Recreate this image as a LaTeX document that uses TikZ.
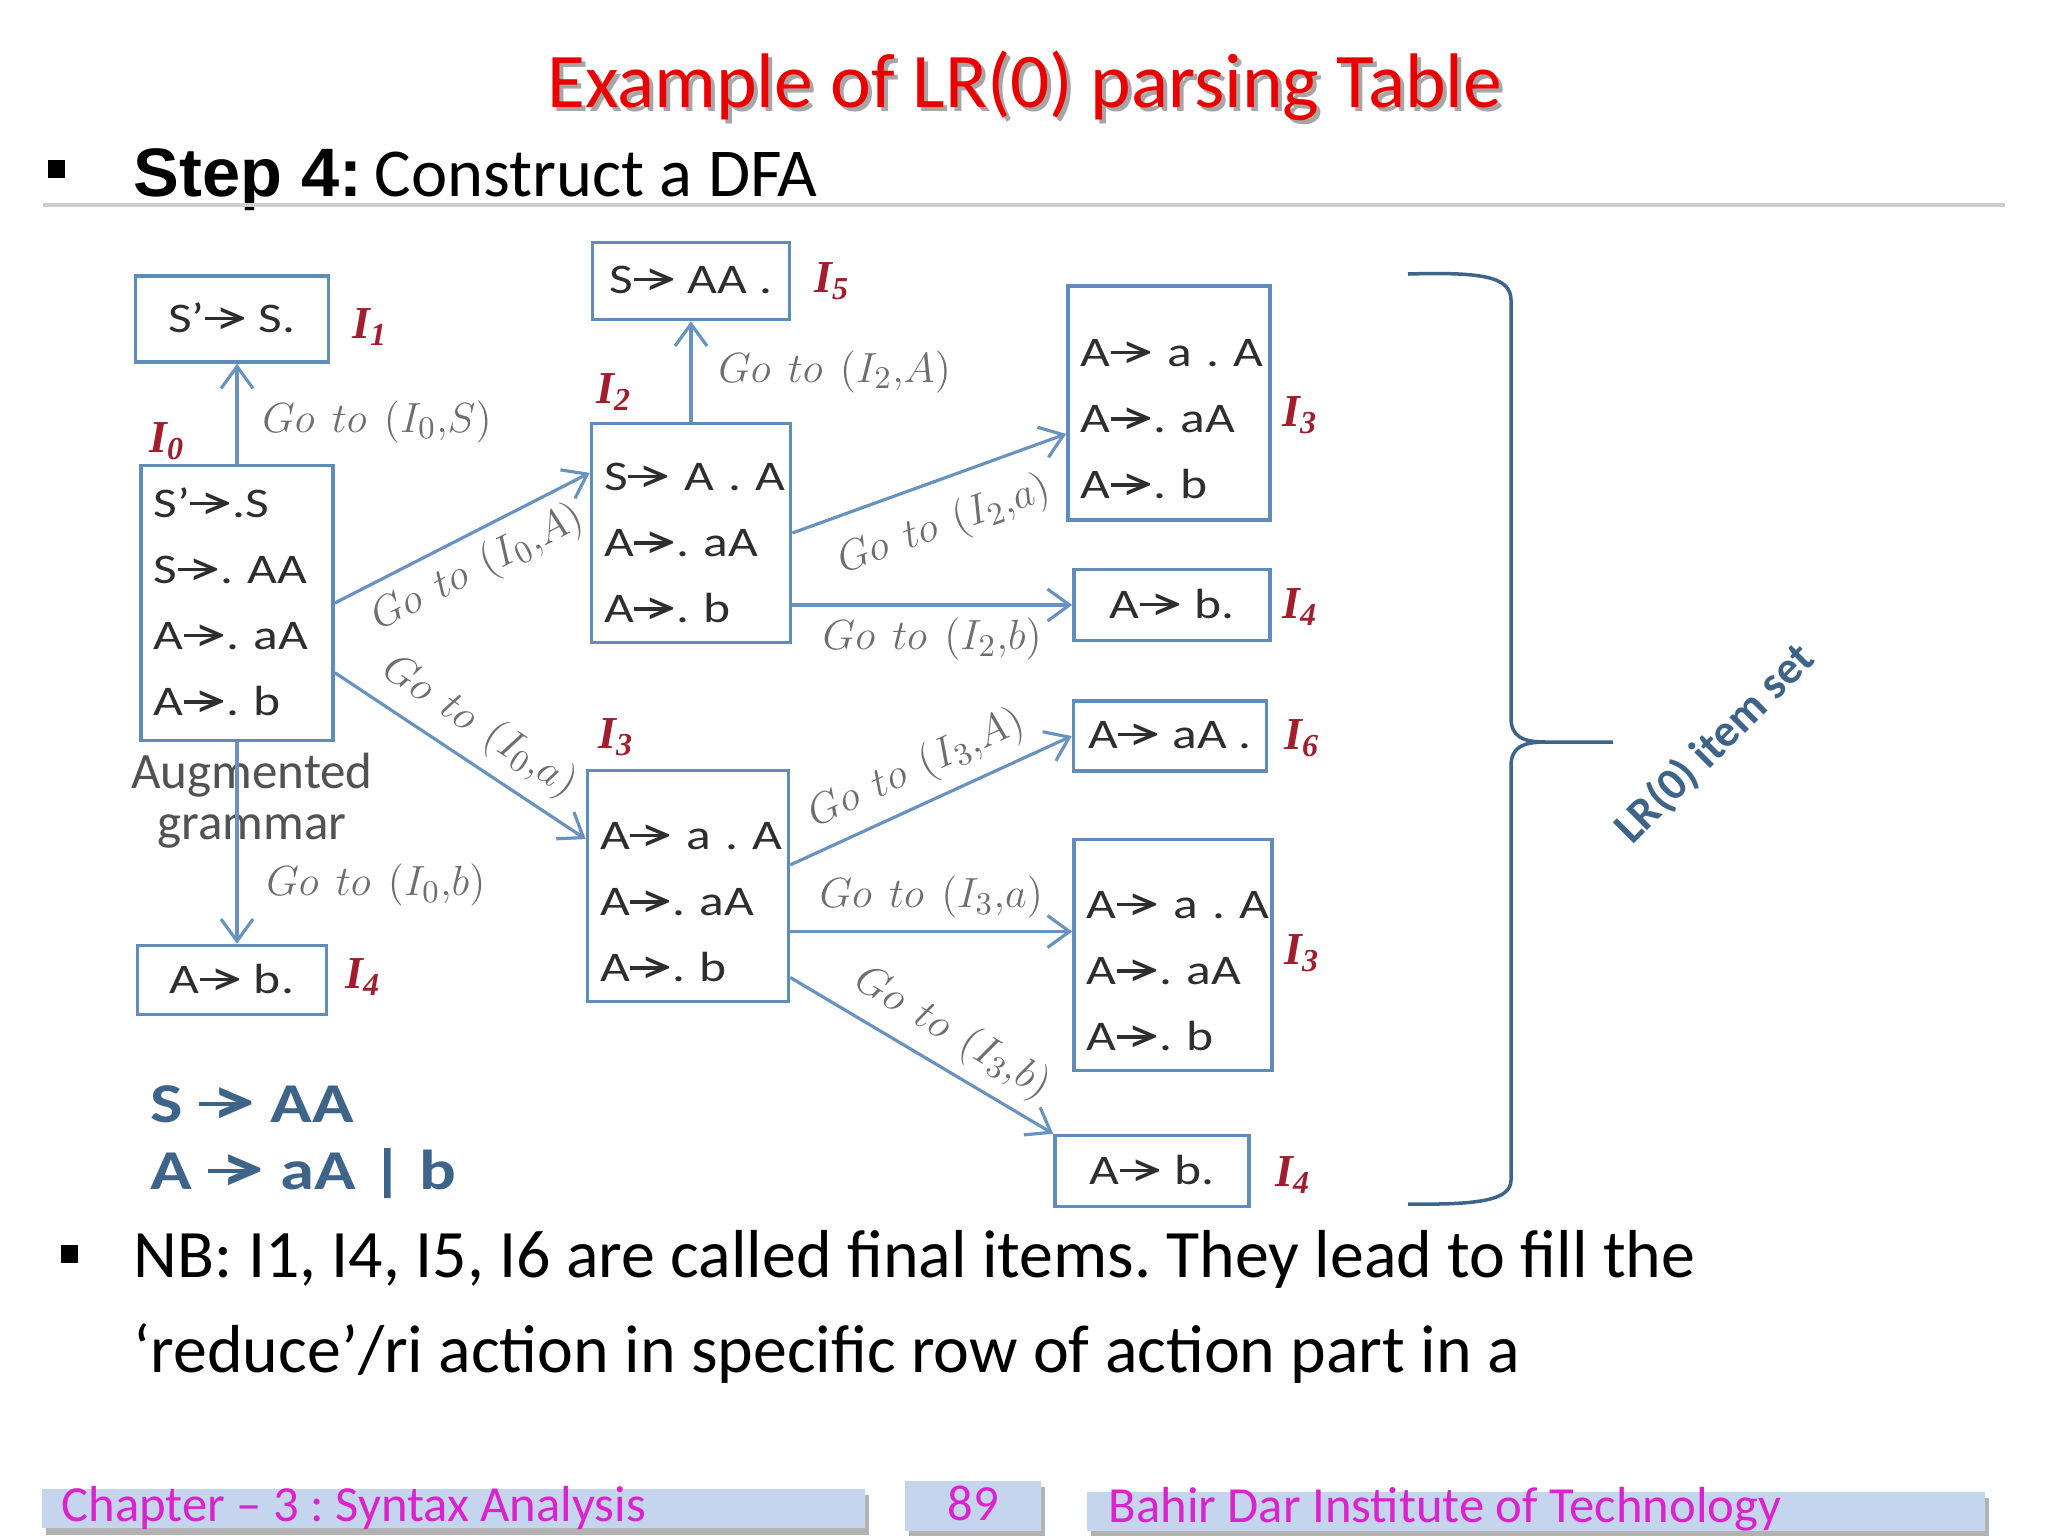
\documentclass[tikz,border=0pt]{standalone}
\usepackage{fontspec}
\usepackage{graphicx}
\setmainfont{Carlito}
\newfontfamily\arialfont{Liberation Sans}
\newfontfamily\widefont{Carlito}[FakeStretch=1.22]
\newfontfamily\labfont{Liberation Serif}
\usetikzlibrary{arrows.meta,calc,positioning}

\definecolor{boxline}{RGB}{96,140,186}
\definecolor{edgecol}{RGB}{104,146,192}
\definecolor{golabel}{RGB}{110,110,110}
\definecolor{labred}{RGB}{160,30,45}
\definecolor{gramcol}{RGB}{62,100,138}
\definecolor{titlered}{RGB}{235,0,0}
\definecolor{footfill}{RGB}{197,213,237}
\definecolor{foottext}{RGB}{218,35,205}
\definecolor{rulegray}{RGB}{205,205,205}

\newcommand\itemarrow{\mbox{\rule[0.285em]{0.8em}{0.075em}\kern-0.55em\raisebox{-0.07em}{\scalebox{1.25}{>}}}}
\newcommand\itemlab[1]{{\labfont\bfseries\itshape I\textsubscript{#1}}}
\newcommand\topgap{\rule{0pt}{0.62cm}}
\newcommand\goto[2]{$Go\ \,to\ \,(I_{#1}{,}#2)$}

\tikzset{
  itembox/.style={draw=boxline, line width=1pt, inner xsep=0.13cm, text=black!82,
    font=\widefont\fontsize{12}{18.8}\selectfont},
  multibox/.style={itembox, align=left},
  goedge/.style={draw=edgecol, line width=0.9pt, -{Straight Barb[length=2.2mm,width=3.2mm]}},
  golab/.style={font=\fontsize{12.8}{14}\selectfont, text=golabel},
  setlab/.style={text=labred, font=\fontsize{13}{14}\selectfont},
  gram/.style={text=gramcol, font=\widefont\fontsize{16}{19}\selectfont\bfseries, anchor=base west, inner sep=0pt},
  foottxt/.style={text=foottext, font=\fontsize{14.4}{16}\selectfont, inner sep=0pt},
  bodytxt/.style={font=\fontsize{19.3}{27}\selectfont, anchor=base west, inner sep=0pt}
}

\begin{document}
\frenchspacing
\begin{tikzpicture}[x=0.01cm, y=-0.01cm]
  \useasboundingbox (0,0) rectangle (2048,1536);

  \node[font=\fontsize{22}{26}\selectfont, text=black!35] at (1029,90) {Example of LR(0) parsing Table};
  \node[font=\fontsize{22}{26}\selectfont, text=titlered] (title) at (1025,86) {Example of LR(0) parsing Table};

  \fill (48,160) rectangle (65,178);
  \node[anchor=base west, inner sep=0pt] (step) at (133,196)
    {{\arialfont\fontsize{19.5}{22}\selectfont\bfseries Step 4:}\hspace{0.35em}{\fontsize{19.5}{22}\selectfont Construct a DFA}};
  \draw[rulegray, line width=1.3pt] (43,205) -- (2005,205);

  \node[itembox, minimum width=1.93cm, minimum height=0.86cm] (i1) at (232,319) {S’\itemarrow~S.};
  \node[multibox, text width=1.66cm, minimum height=2.75cm] (i0) at (237,603)
    {S’\itemarrow.S\\ S\itemarrow.~AA\\ A\itemarrow.~aA\\ A\itemarrow.~b};
  \node[itembox, minimum width=1.89cm, minimum height=0.69cm] (i4l) at (232,980) {A\itemarrow~b.};
  \node[itembox, minimum width=1.97cm, minimum height=0.77cm] (i5) at (691,281) {S\itemarrow~AA~.};
  \node[multibox, text width=1.73cm, minimum height=2.19cm] (i2) at (691,533)
    {\rule{0pt}{0.5cm}S\itemarrow~A~.~A\\ A\itemarrow.~aA\\ A\itemarrow.~b};
  \node[multibox, text width=1.76cm, minimum height=2.34cm] (i3a) at (1169,403)
    {\topgap A\itemarrow~a~.~A\\ A\itemarrow.~aA\\ A\itemarrow.~b};
  \node[itembox, minimum width=1.96cm, minimum height=0.71cm] (i4a) at (1172,605) {A\itemarrow~b.};
  \node[multibox, text width=1.75cm, minimum height=2.31cm] (i3m) at (688,886)
    {\topgap A\itemarrow~a~.~A\\ A\itemarrow.~aA\\ A\itemarrow.~b};
  \node[itembox, minimum width=1.93cm, minimum height=0.70cm] (i6) at (1170,736) {A\itemarrow~aA~.};
  \node[multibox, text width=1.72cm, minimum height=2.31cm] (i3r) at (1173,955)
    {\topgap A\itemarrow~a~.~A\\ A\itemarrow.~aA\\ A\itemarrow.~b};
  \node[itembox, minimum width=1.94cm, minimum height=0.71cm] (i4c) at (1152,1171) {A\itemarrow~b.};

  \node[setlab] (l0) at (167,441) {\itemlab{0}};
  \node[setlab] (l1) at (370,327) {\itemlab{1}};
  \node[setlab] (l4l) at (363,977) {\itemlab{4}};
  \node[setlab] (l5) at (832,281) {\itemlab{5}};
  \node[setlab] (l2) at (614,392) {\itemlab{2}};
  \node[setlab] (l3a) at (1300,415) {\itemlab{3}};
  \node[setlab] (l4a) at (1300,607) {\itemlab{4}};
  \node[setlab] (l3m) at (616,737) {\itemlab{3}};
  \node[setlab] (l6) at (1302,738) {\itemlab{6}};
  \node[setlab] (l3r) at (1302,953) {\itemlab{3}};
  \node[setlab] (l4c) at (1293,1175) {\itemlab{4}};

  \node[align=center, text=black!68, font=\fontsize{14.5}{14.5}\selectfont] (aug) at (252,801) {Augmented\\grammar};
  \node[gram] (g1) at (150,1122) {S \itemarrow\ AA};
  \node[gram] (g2) at (150,1189) {A \itemarrow\ aA | b};

  \coordinate (i3rin) at ($(i3r.north west)!0.4!(i3r.south west)$);
  \begin{scope}[goedge]
    \draw (i0.north) -- (i0.north |- i1.south)
      node[golab, pos=0.42, right=0.12cm] {\goto{0}{S}};
    \draw (i0.south) -- (i0.south |- i4l.north)
      node[golab, pos=0.71, right=0.16cm] {\goto{0}{b}};
    \draw (i0.east) -- ($(i2.north west)!0.23!(i2.south west)$)
      node[golab, midway, sloped, below] {\goto{0}{A}};
    \draw ($(i0.north east)!0.75!(i0.south east)$) -- ($(i3m.north west)!0.3!(i3m.south west)$)
      node[golab, midway, sloped, above] {\goto{0}{a}};
    \draw (i2.north) -- (i2.north |- i5.south)
      node[golab, midway, right=0.14cm] {\goto{2}{A}};
    \draw (i2.east) -- ($(i3a.north west)!0.63!(i3a.south west)$)
      node[golab, midway, sloped, below=3pt] {\goto{2}{a}};
    \draw (i2.east |- i4a.west) -- (i4a.west)
      node[golab, midway, below] {\goto{2}{b}};
    \draw ($(i3m.north east)!0.41!(i3m.south east)$) -- (i6.west)
      node[golab, midway, sloped, above] {\goto{3}{A}};
    \draw (i3m.east |- i3rin) -- (i3rin)
      node[golab, midway, above=0pt] {\goto{3}{a}};
    \draw ($(i3m.north east)!0.89!(i3m.south east)$) -- (i4c.north west)
      node[golab, pos=0.55, sloped, above] {\goto{3}{b}};
  \end{scope}

  \draw[gramcol, line width=1pt] (1408,274) .. controls (1480,272) and (1511,276) .. (1511,300)
    -- (1511,718) .. controls (1511,736) and (1522,742) .. (1545,742) -- (1613,742)
    (1545,742) .. controls (1522,742) and (1511,748) .. (1511,766)
    -- (1511,1180) .. controls (1511,1200) and (1480,1205) .. (1408,1204);
  \node[rotate=45, text=gramcol, font=\fontsize{13}{15}\selectfont\bfseries] (itemset) at (1715,744) {LR(0) item set};

  \fill (61,1245) rectangle (78,1263);
  \node[bodytxt] (nb1) at (133,1277) {NB: I1, I4, I5, I6 are called final items. They lead to fill the};
  \node[bodytxt] (nb2) at (133,1372) {‘reduce’/ri action in specific row of action part in a};

  \fill[black!30] (46,1495) rectangle (869,1535);
  \fill[footfill] (42,1489) rectangle (865,1528);
  \fill[black!30] (909,1487) rectangle (1045,1536);
  \fill[footfill] (905,1481) rectangle (1041,1531);
  \fill[black!30] (1091,1498) rectangle (1989,1536);
  \fill[footfill] (1087,1492) rectangle (1985,1531);
  \node[foottxt, anchor=west] (chap) at (61,1508) {Chapter – 3 : Syntax Analysis};
  \node[foottxt] (page) at (973,1503) {89};
  \node[foottxt, anchor=west] (inst) at (1108,1509) {Bahir Dar Institute of Technology};
\end{tikzpicture}
\end{document}
